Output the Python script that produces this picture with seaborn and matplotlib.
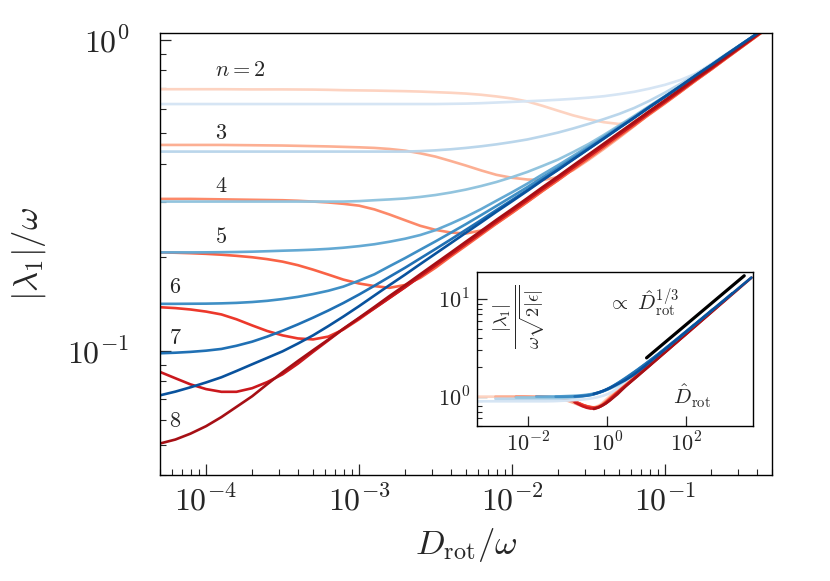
import numpy as np
import matplotlib
matplotlib.use('Agg')
import matplotlib.pyplot as plt
import seaborn as sns
from matplotlib.ticker import FixedLocator, NullLocator, NullFormatter, FuncFormatter

# rotational diffusion D_rot/omega (shared grid, 0.1 decade)
d_rot = [5.0e-5, 6.3e-5, 7.9e-5, 1.0e-4, 1.26e-4, 1.58e-4, 2.0e-4, 2.51e-4, 3.16e-4, 3.98e-4,
         5.0e-4, 6.3e-4, 7.9e-4, 1.0e-3, 1.26e-3, 1.58e-3, 2.0e-3, 2.51e-3, 3.16e-3, 3.98e-3,
         5.0e-3, 6.3e-3, 7.9e-3, 1.0e-2, 1.26e-2, 1.58e-2, 2.0e-2, 2.51e-2, 3.16e-2, 3.98e-2,
         5.0e-2, 6.3e-2, 7.9e-2, 0.1, 0.126, 0.158, 0.2, 0.251, 0.316, 0.398, 0.5]

# |lambda_1|/omega, red branch
red_n2 = [0.693, 0.693, 0.693, 0.693, 0.693, 0.6925, 0.692, 0.692, 0.692, 0.6915,
          0.691, 0.6898, 0.688, 0.687, 0.686, 0.6845, 0.683, 0.681, 0.678, 0.675,
          0.671, 0.665, 0.657, 0.647, 0.633, 0.613, 0.591, 0.571, 0.555, 0.543,
          0.536, 0.5485, 0.574, 0.623, 0.6785, 0.7375, 0.8015, 0.8706, 0.9455, 1.0269, 1.115]
red_n3 = [0.459, 0.459, 0.459, 0.459, 0.459, 0.4585, 0.458, 0.4575, 0.457, 0.456,
          0.455, 0.454, 0.4525, 0.451, 0.449, 0.4455, 0.440, 0.4315, 0.421, 0.4075,
          0.394, 0.380, 0.368, 0.360, 0.3555, 0.354, 0.362, 0.381, 0.411, 0.4455,
          0.484, 0.528, 0.5763, 0.6259, 0.6797, 0.7382, 0.8017, 0.8706, 0.9455, 1.0269, 1.115]
red_n4 = [0.308, 0.308, 0.308, 0.3075, 0.307, 0.3065, 0.306, 0.3055, 0.305, 0.3038,
          0.302, 0.300, 0.297, 0.293, 0.285, 0.2745, 0.263, 0.2525, 0.245, 0.2402,
          0.2385, 0.244, 0.2568, 0.2779, 0.3012, 0.3264, 0.3538, 0.3835, 0.4155, 0.4509,
          0.4891, 0.5307, 0.5763, 0.6259, 0.6797, 0.7382, 0.8017, 0.8706, 0.9455, 1.0269, 1.115]
red_n5 = [0.2074, 0.2069, 0.2062, 0.2052, 0.2039, 0.2022, 0.2001, 0.1973, 0.1937, 0.1887,
          0.1826, 0.1760, 0.1696, 0.1648, 0.1617, 0.1596, 0.1630, 0.1718, 0.1852, 0.2013,
          0.2180, 0.2366, 0.2564, 0.2779, 0.3012, 0.3264, 0.3538, 0.3835, 0.4155, 0.4509,
          0.4891, 0.5307, 0.5763, 0.6259, 0.6797, 0.7382, 0.8017, 0.8706, 0.9455, 1.0269, 1.115]
red_n6 = [0.1383, 0.1374, 0.1360, 0.1339, 0.1311, 0.1265, 0.1209, 0.1160, 0.1123, 0.1098,
          0.1090, 0.1113, 0.1173, 0.1265, 0.1372, 0.1481, 0.1604, 0.1738, 0.1883, 0.2041,
          0.2212, 0.2397, 0.2598, 0.2816, 0.3052, 0.3308, 0.3585, 0.3886, 0.4211, 0.4566,
          0.4950, 0.5369, 0.5823, 0.6316, 0.6853, 0.7435, 0.8066, 0.8750, 0.9493, 1.0306, 1.118]
red_n7 = [0.0857, 0.0818, 0.0782, 0.0755, 0.0740, 0.0740, 0.0760, 0.0795, 0.0842, 0.0911,
          0.0994, 0.1083, 0.1178, 0.1274, 0.1372, 0.1481, 0.1604, 0.1738, 0.1883, 0.2041,
          0.2212, 0.2397, 0.2598, 0.2816, 0.3052, 0.3308, 0.3585, 0.3886, 0.4211, 0.4566,
          0.4950, 0.5369, 0.5823, 0.6316, 0.6853, 0.7435, 0.8066, 0.8750, 0.9493, 1.0306, 1.118]
red_n8 = [0.0505, 0.0520, 0.0543, 0.0574, 0.0614, 0.0662, 0.0716, 0.0783, 0.0855, 0.0929,
          0.1006, 0.1089, 0.1180, 0.1279, 0.1386, 0.1502, 0.1628, 0.1764, 0.1912, 0.2072,
          0.2246, 0.2434, 0.2638, 0.2859, 0.3099, 0.3358, 0.3640, 0.3945, 0.4275, 0.4634,
          0.5022, 0.5443, 0.5899, 0.6393, 0.6929, 0.7510, 0.8139, 0.8821, 0.9560, 1.0362, 1.123]

# |lambda_1|/omega, blue branch
blue_n2 = [0.621, 0.621, 0.621, 0.621, 0.621, 0.621, 0.621, 0.621, 0.621, 0.621,
           0.621, 0.621, 0.621, 0.621, 0.621, 0.621, 0.621, 0.621, 0.621, 0.622,
           0.623, 0.625, 0.628, 0.631, 0.634, 0.637, 0.641, 0.6455, 0.651, 0.658,
           0.668, 0.680, 0.696, 0.716, 0.742, 0.777, 0.828, 0.894, 0.966, 1.0434, 1.127]
blue_n3 = [0.437, 0.437, 0.437, 0.437, 0.437, 0.437, 0.437, 0.437, 0.437, 0.437,
           0.437, 0.437, 0.437, 0.437, 0.437, 0.437, 0.437, 0.4385, 0.441, 0.4445,
           0.449, 0.4545, 0.461, 0.469, 0.478, 0.4897, 0.503, 0.5185, 0.536, 0.5555,
           0.577, 0.6035, 0.636, 0.676, 0.721, 0.774, 0.834, 0.899, 0.968, 1.044, 1.127]
blue_n4 = [0.302, 0.302, 0.302, 0.302, 0.302, 0.302, 0.302, 0.302, 0.302, 0.302,
           0.302, 0.302, 0.302, 0.303, 0.305, 0.3068, 0.309, 0.3125, 0.317, 0.3229,
           0.330, 0.3389, 0.349, 0.3617, 0.376, 0.3929, 0.412, 0.4355, 0.462, 0.4942,
           0.530, 0.5693, 0.612, 0.6587, 0.710, 0.7664, 0.8274, 0.894, 0.966, 1.0434, 1.127]
blue_n5 = [0.2074, 0.2074, 0.2074, 0.2075, 0.2077, 0.2080, 0.2085, 0.2092, 0.2100, 0.2107,
           0.2116, 0.2129, 0.2147, 0.2172, 0.2203, 0.2244, 0.2295, 0.2358, 0.2445, 0.2565,
           0.2699, 0.2859, 0.3038, 0.3235, 0.3449, 0.3692, 0.3951, 0.4235, 0.4544, 0.4885,
           0.5252, 0.5657, 0.6094, 0.6572, 0.7087, 0.7658, 0.8274, 0.894, 0.966, 1.0434, 1.127]
blue_n6 = [0.1418, 0.1418, 0.1419, 0.1420, 0.1423, 0.1428, 0.1437, 0.1450, 0.1469, 0.1493,
           0.1524, 0.1562, 0.1611, 0.1683, 0.1764, 0.1872, 0.1989, 0.2115, 0.2250, 0.2399,
           0.2557, 0.2735, 0.2923, 0.3135, 0.3361, 0.3611, 0.3878, 0.4173, 0.4491, 0.4837,
           0.5216, 0.5624, 0.6070, 0.6559, 0.7087, 0.7658, 0.8274, 0.894, 0.966, 1.0434, 1.127]
blue_n7 = [0.0984, 0.0988, 0.0994, 0.1003, 0.1016, 0.1040, 0.1072, 0.1113, 0.1162, 0.1218,
           0.1280, 0.1350, 0.1427, 0.1519, 0.1621, 0.1731, 0.1852, 0.1984, 0.2127, 0.2283,
           0.2452, 0.2636, 0.2836, 0.3056, 0.3292, 0.3551, 0.3828, 0.4128, 0.4460, 0.4813,
           0.5200, 0.5618, 0.6070, 0.6559, 0.7087, 0.7658, 0.8274, 0.894, 0.966, 1.0434, 1.127]
blue_n8 = [0.0721, 0.0741, 0.0765, 0.0793, 0.0824, 0.0863, 0.0907, 0.0951, 0.0998, 0.1057,
           0.1123, 0.1203, 0.1291, 0.1394, 0.1508, 0.1628, 0.1760, 0.1902, 0.2055, 0.2221,
           0.2399, 0.2592, 0.2800, 0.3026, 0.3269, 0.3533, 0.3817, 0.4124, 0.4455, 0.4813,
           0.5200, 0.5618, 0.6070, 0.6559, 0.7087, 0.7658, 0.8274, 0.894, 0.966, 1.0434, 1.127]

n_values = [2, 3, 4, 5, 6, 7, 8]
red_curves = [red_n2, red_n3, red_n4, red_n5, red_n6, red_n7, red_n8]
blue_curves = [blue_n2, blue_n3, blue_n4, blue_n5, blue_n6, blue_n7, blue_n8]

# inset rescaling per n: lambda / sqrt(2|eps|) and D_rot -> D_hat
lam_scale = [0.693, 0.459, 0.308, 0.207, 0.142, 0.098, 0.0676]
d_scale = [8.5, 29.2, 96.6, 318, 985, 3000, 9130]

# D_hat^(1/3) guide line
fit_x = [10, 3000]
fit_y = [2.5, 17.4]

sns.set_style('ticks')
plt.rcParams['mathtext.fontset'] = 'cm'
plt.rcParams['font.family'] = ['DejaVu Serif']

reds = sns.color_palette('Reds', as_cmap=True)
blues = sns.color_palette('Blues', as_cmap=True)
shade = np.linspace(0.17, 0.87, len(n_values))

pow10 = FuncFormatter(lambda v, p: r'$10^{%d}$' % int(round(np.log10(v))))

fig = plt.figure(figsize=(8.3, 5.81), dpi=100)
ax = fig.add_axes([0.1928, 0.1824, 0.7373, 0.7608])

for i, n in enumerate(n_values):
    sns.lineplot(x=d_rot, y=red_curves[i], ax=ax, color=reds(shade[i]), lw=1.9,
                 estimator=None, sort=False)
    sns.lineplot(x=d_rot, y=blue_curves[i], ax=ax, color=blues(shade[i]), lw=1.9,
                 estimator=None, sort=False)

ax.set_xscale('log')
ax.set_yscale('log')
ax.set_xlim(5e-5, 0.5)
ax.set_ylim(0.04, 1.05)
ax.xaxis.set_major_formatter(pow10)
ax.yaxis.set_major_formatter(pow10)
ax.yaxis.set_minor_formatter(NullFormatter())
ax.xaxis.set_minor_formatter(NullFormatter())
ax.tick_params(which='both', direction='in', top=False, right=False, labelsize=23)
ax.tick_params(axis='x', which='both', pad=8)
ax.tick_params(axis='y', which='both', pad=22)
ax.tick_params(which='major', length=8, width=0.9)
ax.tick_params(which='minor', length=4, width=0.8)
for s in ax.spines.values():
    s.set_linewidth(1.0)
    s.set_color('black')

ax.set_xlabel(r'$D_{\mathrm{rot}}/\omega$', fontsize=25, labelpad=6)
ax.set_ylabel(r'$|\lambda_1|/\omega$', fontsize=25, labelpad=14)

# n labels
ax.text(1.14e-4, 0.797, r'$n=2$', fontsize=16, ha='left', va='center')
ax.text(1.14e-4, 0.501, r'$3$', fontsize=16, ha='left', va='center')
ax.text(1.14e-4, 0.340, r'$4$', fontsize=16, ha='left', va='center')
ax.text(1.14e-4, 0.232, r'$5$', fontsize=16, ha='left', va='center')
ax.text(5.7e-5, 0.161, r'$6$', fontsize=16, ha='left', va='center')
ax.text(5.7e-5, 0.110, r'$7$', fontsize=16, ha='left', va='center')
ax.text(5.7e-5, 0.0596, r'$8$', fontsize=16, ha='left', va='center')

# inset: collapsed curves
axin = fig.add_axes([0.5747, 0.2668, 0.3325, 0.265])
axin.set_facecolor('white')
for i, n in enumerate(n_values):
    xs = np.array(d_rot) * d_scale[i]
    sns.lineplot(x=xs, y=np.array(red_curves[i]) / lam_scale[i], ax=axin,
                 color=reds(shade[i]), lw=1.9, estimator=None, sort=False)
for i, n in enumerate(n_values):
    xs = np.array(d_rot) * d_scale[i]
    sns.lineplot(x=xs, y=np.array(blue_curves[i]) / lam_scale[i], ax=axin,
                 color=blues(shade[i]), lw=1.9, estimator=None, sort=False)
axin.plot(fit_x, fit_y, color='black', lw=2.3)

axin.set_xscale('log')
axin.set_yscale('log')
axin.set_xlim(5e-4, 5e3)
axin.set_ylim(0.5, 19)
axin.xaxis.set_major_locator(FixedLocator([1e-2, 1, 1e2]))
axin.xaxis.set_minor_locator(NullLocator())
axin.xaxis.set_major_formatter(pow10)
axin.yaxis.set_major_formatter(pow10)
axin.yaxis.set_minor_formatter(NullFormatter())
axin.tick_params(which='both', direction='in', top=False, right=False, labelsize=16, pad=5)
axin.tick_params(which='major', length=7, width=0.9)
axin.tick_params(which='minor', length=3.5, width=0.8)
for s in axin.spines.values():
    s.set_linewidth(1.0)
    s.set_color('black')

axin.text(0.155, 0.71, r'$\frac{|\lambda_1|}{\omega\sqrt{2|\epsilon|}}$', transform=axin.transAxes,
          fontsize=19, rotation=90, ha='center', va='center')
axin.text(0.605, 0.80, r'$\propto\ \hat{D}_{\mathrm{rot}}^{1/3}$', transform=axin.transAxes,
          fontsize=15, ha='center', va='center')
axin.text(0.78, 0.195, r'$\hat{D}_{\mathrm{rot}}$', transform=axin.transAxes,
          fontsize=15, ha='center', va='center')

fig.savefig('out.png', dpi=100)
